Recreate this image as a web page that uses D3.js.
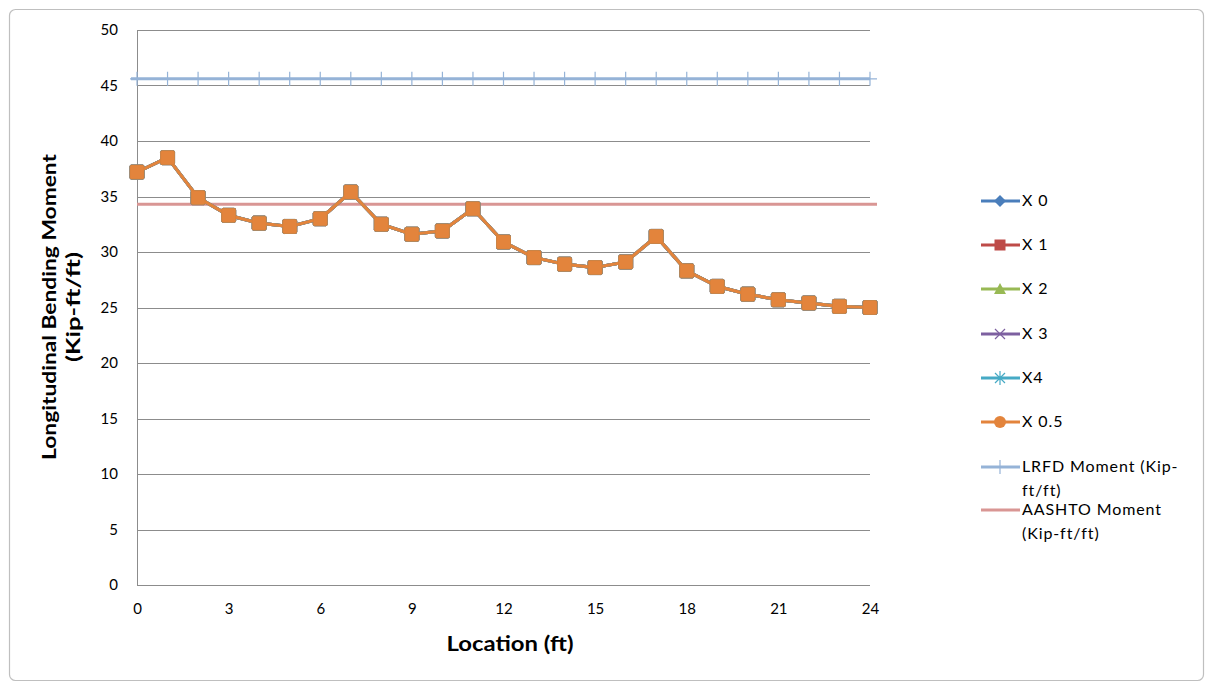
<!DOCTYPE html>
<html>
<head>
<meta charset="utf-8">
<script src="https://cdn.jsdelivr.net/npm/d3@7"></script>
<style>
  html, body { margin: 0; padding: 0; background: #fff; }
  svg { display: block; }
  text { font-family: Lato, "Open Sans", sans-serif; fill: #000; }
</style>
</head>
<body>
<svg id="chart" width="1211" height="686"></svg>
<script>
// ---- data ----
const locations = [0,1,2,3,4,5,6,7,8,9,10,11,12,13,14,15,16,17,18,19,20,21,22,23,24];
const momentX05 = [37.2,38.5,34.9,33.3,32.6,32.3,33.0,35.4,32.5,31.6,31.9,33.9,30.9,29.5,28.9,28.6,29.1,31.4,28.3,26.9,26.2,25.7,25.4,25.1,25.0];
const momentX0 = momentX05.slice();
const momentX1 = momentX05.slice();
const momentX2 = momentX05.slice();
const momentX3 = momentX05.slice();
const momentX4 = momentX05.slice();
const lrfdMoment = 45.6;
const aashtoMoment = 34.3;
const xTicks = [0,3,6,9,12,15,18,21,24];
const yTicks = [0,5,10,15,20,25,30,35,40,45,50];
const seriesNames = ["X 0","X 1","X 2","X 3","X4","X 0.5","LRFD Moment (Kip-ft/ft)","AASHTO Moment (Kip-ft/ft)"];
const seriesColors = ["#4A7EBB","#BE4B48","#98B954","#7D60A0","#46AAC5","#E3843C","#95B3D7","#D99694"];

const svg = d3.select("#chart");

// outer chart border
svg.append("rect").attr("x", 9.5).attr("y", 9.5).attr("width", 1194).attr("height", 671)
  .attr("rx", 6).attr("fill", "#fff").attr("stroke", "#BFBFBF").attr("stroke-width", 1.2);

const x = d3.scaleLinear().domain([0, 24]).range([137, 870]);
const y = d3.scaleLinear().domain([0, 50]).range([585, 30]);

// gridlines
svg.append("g").selectAll("line").data(yTicks).join("line")
  .attr("x1", x(0)).attr("x2", x(24))
  .attr("y1", d => Math.round(y(d)) + 0.5).attr("y2", d => Math.round(y(d)) + 0.5)
  .attr("stroke", "#8C8C8C").attr("stroke-width", 1);

// y axis line
svg.append("line").attr("x1", x(0) + 0.5).attr("x2", x(0) + 0.5)
  .attr("y1", y(50)).attr("y2", y(0)).attr("stroke", "#8C8C8C").attr("stroke-width", 1);

// y tick labels
const yAxis = d3.axisLeft(y).tickValues(yTicks).tickSize(0).tickPadding(19);
const gy = svg.append("g").attr("transform", `translate(${x(0)},0)`).call(yAxis);
gy.select(".domain").remove();
gy.selectAll("text").style("font-size", "15px").style("font-family", "Lato, 'Open Sans', sans-serif").attr("fill", "#000");

// x tick labels
const xAxis = d3.axisBottom(x).tickValues(xTicks).tickSize(0).tickPadding(18);
const gx = svg.append("g").attr("transform", `translate(0,${y(0)})`).call(xAxis);
gx.select(".domain").remove();
gx.selectAll("text").style("font-size", "15px").style("font-family", "Lato, 'Open Sans', sans-serif").attr("fill", "#000");

// axis titles
svg.append("text").attr("x", 510).attr("y", 651).attr("text-anchor", "middle")
  .attr("textLength", 127).attr("lengthAdjust", "spacingAndGlyphs")
  .style("font-size", "20px").style("font-weight", "bold").text("Location (ft)");
const yt = svg.append("g").attr("transform", "translate(56,307) rotate(-90)");
yt.append("text").attr("x", 0).attr("y", 0).attr("text-anchor", "middle")
  .attr("textLength", 306).attr("lengthAdjust", "spacingAndGlyphs")
  .style("font-size", "19px").style("font-weight", "bold").text("Longitudinal Bending Moment");
yt.append("text").attr("x", 0).attr("y", 24).attr("text-anchor", "middle")
  .attr("textLength", 110).attr("lengthAdjust", "spacingAndGlyphs")
  .style("font-size", "19px").style("font-weight", "bold").text("(Kip-ft/ft)");

// reference lines
svg.append("line").attr("x1", x(0)).attr("x2", x(24) + 7)
  .attr("y1", y(aashtoMoment)).attr("y2", y(aashtoMoment))
  .attr("stroke", seriesColors[7]).attr("stroke-width", 3);
svg.append("line").attr("x1", x(0) - 6).attr("x2", x(24))
  .attr("y1", y(lrfdMoment)).attr("y2", y(lrfdMoment))
  .attr("stroke", seriesColors[6]).attr("stroke-width", 3);
svg.append("g").selectAll("path").data(locations).join("path")
  .attr("d", d => `M${x(d) - 7},${y(lrfdMoment)}H${x(d) + 7}M${x(d)},${y(lrfdMoment) - 7}V${y(lrfdMoment) + 7}`)
  .attr("stroke", seriesColors[6]).attr("stroke-width", 1.2).attr("fill", "none");

// data series
const allSeries = [momentX0, momentX1, momentX2, momentX3, momentX4, momentX05];
const line = d3.line().x((d, i) => x(locations[i])).y(d => y(d));
allSeries.forEach((vals, si) => {
  const c = seriesColors[si];
  svg.append("path").datum(vals).attr("d", line).attr("fill", "none")
    .attr("stroke", c).attr("stroke-width", 3.2).attr("stroke-linejoin", "round");
  svg.append("g").selectAll("rect").data(vals).join("rect")
    .attr("x", (d, i) => x(locations[i]) - 7).attr("y", d => y(d) - 7)
    .attr("width", 14).attr("height", 14).attr("rx", 1.5)
    .attr("fill", c).attr("stroke", si === 5 ? "#D98037" : c).attr("stroke-width", 0.8);
});

// legend
const legY = [201, 245, 289, 334, 378, 422, 467, 510];
const lg = svg.append("g");
seriesNames.forEach((name, i) => {
  const cy = legY[i];
  const c = seriesColors[i];
  lg.append("line").attr("x1", 981).attr("x2", 1020).attr("y1", cy).attr("y2", cy)
    .attr("stroke", c).attr("stroke-width", 3);
  const cx = 1000;
  if (i === 0) {
    lg.append("path").attr("d", `M${cx},${cy-6}L${cx+6},${cy}L${cx},${cy+6}L${cx-6},${cy}Z`).attr("fill", c);
  } else if (i === 1) {
    lg.append("rect").attr("x", cx - 5.5).attr("y", cy - 5.5).attr("width", 11).attr("height", 11).attr("fill", c);
  } else if (i === 2) {
    lg.append("path").attr("d", `M${cx},${cy-6}L${cx+6},${cy+5}L${cx-6},${cy+5}Z`).attr("fill", c);
  } else if (i === 3) {
    lg.append("path").attr("d", `M${cx-5},${cy-5}L${cx+5},${cy+5}M${cx+5},${cy-5}L${cx-5},${cy+5}`)
      .attr("stroke", c).attr("stroke-width", 1.2);
  } else if (i === 4) {
    lg.append("path").attr("d", `M${cx-5},${cy-5}L${cx+5},${cy+5}M${cx+5},${cy-5}L${cx-5},${cy+5}M${cx},${cy-7}V${cy+7}`)
      .attr("stroke", c).attr("stroke-width", 1.2);
  } else if (i === 5) {
    lg.append("circle").attr("cx", cx).attr("cy", cy).attr("r", 6).attr("fill", c);
  } else if (i === 6) {
    lg.append("path").attr("d", `M${cx},${cy-7}V${cy+7}`).attr("stroke", c).attr("stroke-width", 1.2);
  }
  const t = lg.append("text").attr("x", 1022).attr("y", cy + 5)
    .style("font-size", "16px").style("letter-spacing", "0.9px");
  if (i === 6) {
    t.append("tspan").attr("x", 1022).text("LRFD Moment (Kip-");
    t.append("tspan").attr("x", 1022).attr("dy", 24).text("ft/ft)");
  } else if (i === 7) {
    t.append("tspan").attr("x", 1022).text("AASHTO Moment");
    t.append("tspan").attr("x", 1022).attr("dy", 24).text("(Kip-ft/ft)");
  } else {
    t.text(name);
  }
});
</script>
</body>
</html>
